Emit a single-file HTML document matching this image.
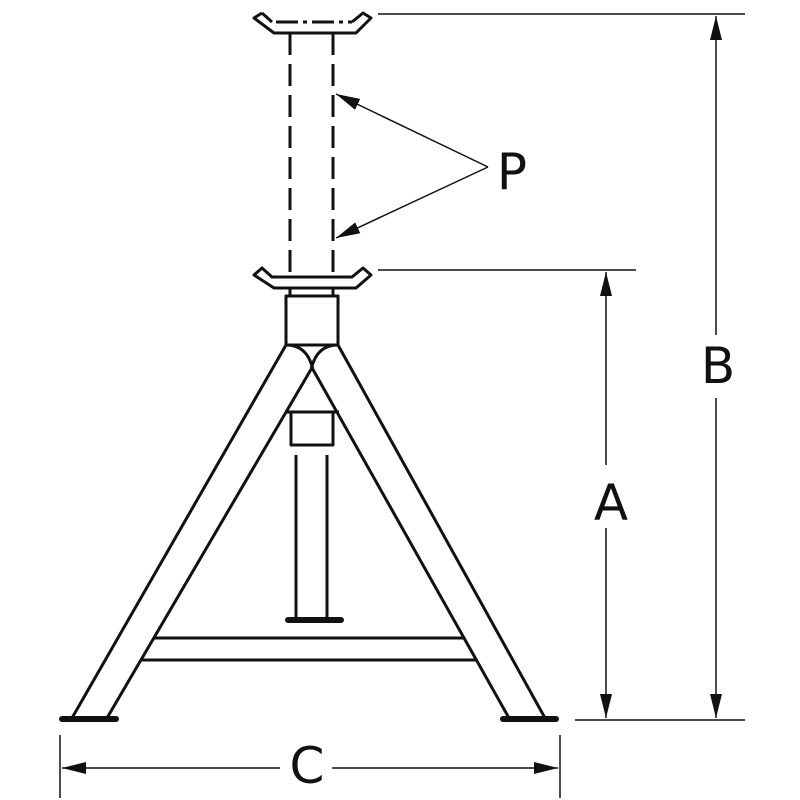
<!DOCTYPE html>
<html><head><meta charset="utf-8"><style>
html,body{margin:0;padding:0;background:#fff}
svg{display:block}
text{font-family:"DejaVu Sans","Liberation Sans",sans-serif;fill:#111}
</style></head><body>
<svg width="800" height="800" viewBox="0 0 800 800" xmlns="http://www.w3.org/2000/svg">
<defs>
<marker id="ar" viewBox="0 0 24 12" refX="24" refY="6" markerWidth="24" markerHeight="12" markerUnits="userSpaceOnUse" orient="auto">
<path d="M0,0 L24,6 L0,12 Z" fill="#111"/>
</marker>
</defs>
<g fill="none" stroke="#111" stroke-width="3" stroke-linejoin="round">
<path d="M262,13 L254,18 L274,33 L356,33 L371,18 L363,13 L352,22" />
<path d="M272,22 L262,13" />
<line x1="276" y1="22" x2="352" y2="22" stroke-dasharray="22,5,4,5"/>
<line x1="290" y1="33" x2="290" y2="275" stroke-dasharray="22,9"/>
<line x1="333" y1="33" x2="333" y2="275" stroke-dasharray="22,9"/>
<path d="M262,268 L254,275 L274,288 L356,288 L371,275 L363,268 L352,277 L272,277 Z"/>
<line x1="290" y1="288" x2="290" y2="296"/>
<line x1="333" y1="288" x2="333" y2="296"/>
<rect x="286" y="296" width="52" height="49"/>
<path d="M286,345 Q306,345 312,366"/>
<path d="M338,345 Q318,345 312,366"/>
<line x1="286" y1="345" x2="72" y2="718"/>
<line x1="313" y1="366" x2="107" y2="718"/>
<line x1="338" y1="345" x2="545" y2="718"/>
<line x1="311" y1="366" x2="509" y2="718"/>
<line x1="285" y1="412" x2="339" y2="412"/>
<rect x="291" y="412" width="42" height="33"/>
<line x1="296" y1="455" x2="296" y2="620"/>
<line x1="327" y1="455" x2="327" y2="620"/>
<line x1="154" y1="638" x2="464" y2="638"/>
<line x1="141" y1="660" x2="477" y2="660"/>
</g>
<g stroke="#111" stroke-width="6" stroke-linecap="round">
<line x1="288" y1="620" x2="341" y2="620"/>
<line x1="62" y1="719" x2="116" y2="719"/>
<line x1="503" y1="719" x2="556" y2="719"/>
</g>
<g stroke="#111" stroke-width="1.5" fill="none">
<line x1="378" y1="14" x2="745" y2="14"/>
<line x1="378" y1="270" x2="636" y2="270"/>
<line x1="575" y1="720" x2="745" y2="720"/>
<line x1="60" y1="735" x2="60" y2="798"/>
<line x1="560" y1="735" x2="560" y2="798"/>
<line x1="716" y1="335" x2="716" y2="16" marker-end="url(#ar)"/>
<line x1="716" y1="398" x2="716" y2="718" marker-end="url(#ar)"/>
<line x1="606" y1="465" x2="606" y2="272" marker-end="url(#ar)"/>
<line x1="606" y1="528" x2="606" y2="718" marker-end="url(#ar)"/>
<line x1="280" y1="768" x2="62" y2="768" marker-end="url(#ar)"/>
<line x1="332" y1="768" x2="558" y2="768" marker-end="url(#ar)"/>
<line x1="488" y1="167" x2="336" y2="94" marker-end="url(#ar)"/>
<line x1="488" y1="167" x2="336" y2="238" marker-end="url(#ar)"/>
</g>
<g font-size="50">
<text x="718" y="383" text-anchor="middle">B</text>
<text x="611" y="520" text-anchor="middle">A</text>
<text x="307" y="783" text-anchor="middle">C</text>
<text x="512" y="189" text-anchor="middle">P</text>
</g>
</svg>
</body></html>
